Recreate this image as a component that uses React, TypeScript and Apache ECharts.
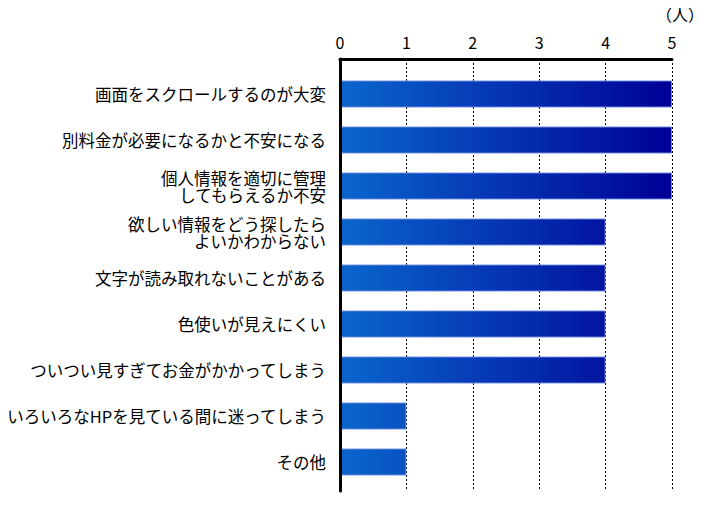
import React, { useEffect, useRef } from "react";
import * as echarts from "echarts";

const categories = [
  "画面をスクロールするのが大変",
  "別料金が必要になるかと不安になる",
  "個人情報を適切に管理\nしてもらえるか不安",
  "欲しい情報をどう探したら\nよいかわからない",
  "文字が読み取れないことがある",
  "色使いが見えにくい",
  "ついつい見すぎてお金がかかってしまう",
  "いろいろなHPを見ている間に迷ってしまう",
  "その他",
];
const values = [5, 5, 5, 4, 4, 4, 4, 1, 1];
const unitLabel = "（人）";
const xMin = 0;
const xMax = 5;
const xInterval = 1;

const FONT = '"Noto Sans CJK JP", "Noto Sans", sans-serif';

export default function App() {
  const ref = useRef<HTMLDivElement>(null);
  useEffect(() => {
    document.body.style.margin = "0";
    if (!ref.current) return;
    const chart = echarts.init(ref.current, null, { renderer: "svg" });
    const gradient = new echarts.graphic.LinearGradient(
      340,
      0,
      672,
      0,
      [
        { offset: 0, color: "#0a66cc" },
        { offset: 1, color: "#000096" },
      ],
      true
    );
    chart.setOption({
      animation: false,
      backgroundColor: "#ffffff",
      grid: [
        { left: 340, right: 33, top: 59, bottom: 28 },
        { left: 340, right: 33, top: 71, bottom: 34 },
      ],
      xAxis: [
        {
          gridIndex: 0,
          type: "value",
          position: "top",
          min: xMin,
          max: xMax,
          interval: xInterval,
          axisLine: { show: true, lineStyle: { color: "#000", width: 3 } },
          axisTick: { show: false },
          axisLabel: {
            color: "#000",
            fontSize: 16,
            fontFamily: FONT,
            margin: 9,
          },
          splitLine: {
            show: true,
            lineStyle: { color: "#000", width: 1, type: [2, 2] },
          },
        },
        {
          gridIndex: 1,
          type: "value",
          min: xMin,
          max: xMax,
          show: false,
        },
      ],
      yAxis: [
        {
          gridIndex: 0,
          type: "category",
          data: [""],
          z: 5,
          axisLine: { show: true, lineStyle: { color: "#000", width: 3 } },
          axisTick: { show: false },
          axisLabel: { show: false },
          splitLine: { show: false },
        },
        {
          gridIndex: 1,
          type: "category",
          inverse: true,
          data: categories,
          axisLine: { show: false },
          axisTick: { show: false },
          axisLabel: {
            color: "#000",
            fontSize: 16.5,
            lineHeight: 17,
            fontFamily: FONT,
            margin: 14,
            align: "right",
          },
          splitLine: { show: false },
        },
      ],
      graphic: [
        {
          type: "text",
          left: 656,
          top: 6,
          style: {
            text: unitLabel,
            fontSize: 16,
            fontFamily: FONT,
            fill: "#000",
          },
        },
      ],
      series: [
        {
          type: "bar",
          xAxisIndex: 1,
          yAxisIndex: 1,
          data: values,
          barWidth: 27,
          itemStyle: {
            color: gradient,
            borderColor: "rgba(110,140,225,0.9)",
            borderWidth: 1,
          },
        },
      ],
    });
    return () => chart.dispose();
  }, []);
  return <div ref={ref} style={{ width: 705, height: 519 }} />;
}
